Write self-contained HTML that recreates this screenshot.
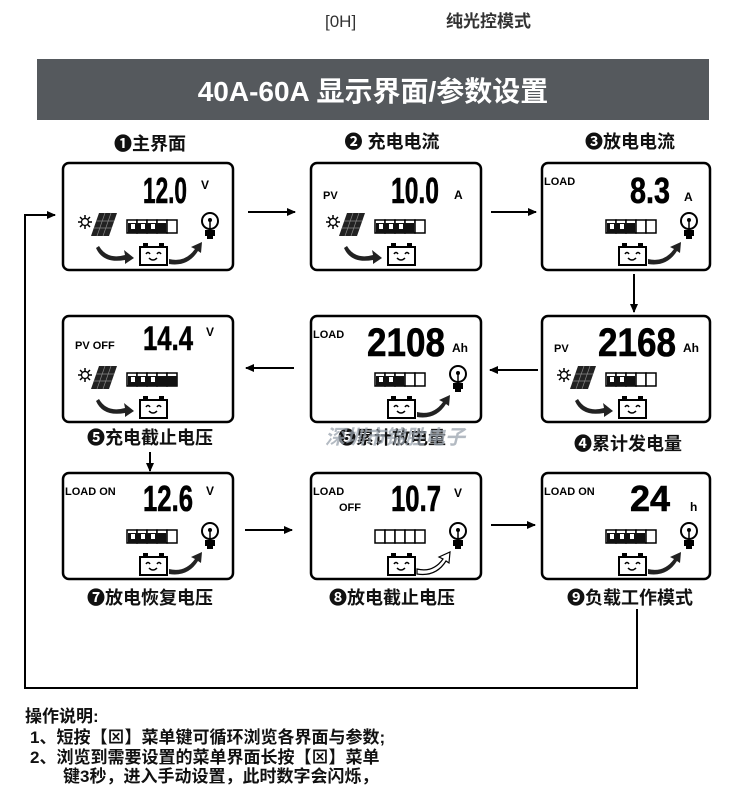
<!DOCTYPE html>
<html><head><meta charset="utf-8"><style>
body{margin:0;background:#fff;}
svg{display:block;font-family:"Liberation Sans","Noto Sans CJK SC",sans-serif;}
.d{font-weight:bold;stroke:#000;stroke-width:0.6;}
</style></head><body>
<svg width="750" height="786" viewBox="0 0 750 786" xmlns="http://www.w3.org/2000/svg">
<defs>
<g id="panel">
 <g stroke="#000" stroke-width="1.5"><line x1="22" y1="52" x2="22" y2="66"/><line x1="15" y1="59" x2="29" y2="59"/><line x1="17" y1="54" x2="27" y2="64"/><line x1="27" y1="54" x2="17" y2="64"/></g>
 <circle cx="22" cy="59" r="3.5" fill="#fff" stroke="#000" stroke-width="1.2"/>
 <polygon points="36,50 54,50 46,73 28,73" fill="#222"/>
 <g stroke="#888" stroke-width="0.7"><line x1="33" y1="58" x2="51" y2="58"/><line x1="31" y1="65" x2="49" y2="65"/><line x1="42" y1="50" x2="34" y2="73"/><line x1="48" y1="50" x2="40" y2="73"/></g>
</g>
<g id="bat">
 <rect x="77" y="84" width="27" height="18" fill="#fff" stroke="#000" stroke-width="2"/>
 <rect x="80" y="80" width="5" height="4" fill="#000"/><rect x="96" y="80" width="5" height="4" fill="#000"/>
 <path d="M83 91 q2-3 4 0 M94 91 q2-3 4 0 M86 95 q4 4 8 0" fill="none" stroke="#000" stroke-width="1.5"/>
</g>
<g id="bulb">
 <circle cx="147" cy="58" r="8" fill="#fff" stroke="#000" stroke-width="2"/>
 <rect x="142" y="67" width="10" height="6" fill="#000"/><rect x="144" y="73" width="6" height="3" fill="#000"/>
 <line x1="147" y1="58" x2="147" y2="67" stroke="#000" stroke-width="1.5"/><circle cx="147" cy="57" r="2" fill="#000"/>
</g>
<g id="larr"><path d="M36 83 q8 14 26 9 l-1 -5 l10 8 l-9 6 l0 -4 q-22 4 -29 -12 z" fill="#222"/></g>
<g id="rarr"><path d="M106 96 q16 4 26 -10 l-4 -2 l11 -5 l-1 11 l-3 -2 q-10 16 -29 13 z" fill="#222"/></g>
<g id="rarro"><path d="M106 96 q16 4 26 -10 l-4 -2 l11 -5 l-1 11 l-3 -2 q-10 16 -29 13 z" fill="#fff" stroke="#000" stroke-width="1.2"/></g>
<g id="bars"><g fill="#fff" stroke="#000" stroke-width="1.5"><rect x="64" y="57" width="10" height="13"/><rect x="74" y="57" width="10" height="13"/><rect x="84" y="57" width="10" height="13"/><rect x="94" y="57" width="10" height="13"/><rect x="104" y="57" width="10" height="13"/></g></g>
<g id="fill4"><rect x="65" y="60" width="38" height="10" fill="#111"/><rect x="68" y="61" width="4" height="5" fill="#fff"/><rect x="78" y="61" width="4" height="5" fill="#fff"/><rect x="88" y="61" width="4" height="5" fill="#fff"/></g>
<g id="fill3"><rect x="65" y="60" width="28" height="10" fill="#111"/><rect x="68" y="61" width="4" height="5" fill="#fff"/><rect x="78" y="61" width="4" height="5" fill="#fff"/></g>
<g id="fill5"><rect x="65" y="60" width="49" height="10" fill="#111"/><rect x="68" y="61" width="4" height="5" fill="#fff"/><rect x="78" y="61" width="4" height="5" fill="#fff"/><rect x="88" y="61" width="4" height="5" fill="#fff"/></g>
<marker id="ah" markerWidth="10" markerHeight="10" refX="8" refY="5" orient="auto" markerUnits="userSpaceOnUse"><path d="M0 1 L9 5 L0 9 z" fill="#000"/></marker>
</defs>

<text x="325" y="27" font-size="17" fill="#333">[0H]</text>
<text x="446" y="27" font-size="17" fill="#333" font-weight="bold">纯光控模式</text>

<rect x="37" y="59" width="672" height="61" fill="#55595d"/>
<text x="373" y="101" font-size="28" font-weight="bold" fill="#fff" text-anchor="middle">40A-60A 显示界面/参数设置</text>

<g font-size="18" font-weight="bold" fill="#111" text-anchor="middle">
<text x="150" y="150">❶主界面</text>
<text x="392" y="148">❷ 充电电流</text>
<text x="630" y="148">❸放电电流</text>
<text x="150" y="444">❺充电截止电压</text>
<text x="392" y="444">❺累计放电量</text>
<text x="628" y="450">❹累计发电量</text>
<text x="150" y="604">❼放电恢复电压</text>
<text x="392" y="604">❽放电截止电压</text>
<text x="630" y="604">❾负载工作模式</text>
</g>
<text x="395" y="444" font-size="20" font-weight="bold" font-style="italic" fill="#9aa3ad" fill-opacity="0.75" text-anchor="middle">深圳市锦胜电子</text>

<g fill="none" stroke="#000" stroke-width="2.5">
<rect x="63" y="163" width="170" height="107" rx="6"/>
<rect x="311" y="163" width="170" height="107" rx="6"/>
<rect x="542" y="163" width="168" height="107" rx="6"/>
<rect x="63" y="316" width="170" height="106" rx="6"/>
<rect x="311" y="316" width="170" height="106" rx="6"/>
<rect x="542" y="316" width="168" height="106" rx="6"/>
<rect x="63" y="473" width="170" height="106" rx="6"/>
<rect x="311" y="473" width="170" height="106" rx="6"/>
<rect x="542" y="473" width="168" height="106" rx="6"/>
</g>

<g stroke="#000" stroke-width="2" marker-end="url(#ah)" fill="none">
<line x1="248" y1="212" x2="295" y2="212"/>
<line x1="491" y1="212" x2="536" y2="212"/>
<line x1="634" y1="274" x2="634" y2="312"/>
<line x1="538" y1="370" x2="490" y2="370"/>
<line x1="294" y1="368" x2="246" y2="368"/>
<line x1="150" y1="452" x2="150" y2="471"/>
<line x1="245" y1="530" x2="292" y2="530"/>
<line x1="491" y1="525" x2="535" y2="525"/>
<polyline points="637,609 637,688 25,688 25,215 55,215"/>
</g>

<g transform="translate(63,163)">
<text class="d" x="124" y="40" font-size="36" text-anchor="end" textLength="44" lengthAdjust="spacingAndGlyphs">12.0</text>
<text x="138" y="26" font-size="12" font-weight="bold">V</text>
<use href="#panel"/><use href="#bars"/><use href="#fill4"/><use href="#bulb"/><use href="#bat"/><use href="#larr"/><use href="#rarr"/>
</g>
<g transform="translate(311,163)">
<text x="12" y="36" font-size="11" font-weight="bold">PV</text>
<text class="d" x="128" y="40" font-size="36" text-anchor="end" textLength="48" lengthAdjust="spacingAndGlyphs">10.0</text>
<text x="143" y="36" font-size="12" font-weight="bold">A</text>
<use href="#panel"/><use href="#bars"/><use href="#fill4"/><use href="#bat"/><use href="#larr"/>
</g>
<g transform="translate(542,163)">
<text x="2" y="22" font-size="11" font-weight="bold">LOAD</text>
<text class="d" x="128" y="40" font-size="36" text-anchor="end" textLength="40" lengthAdjust="spacingAndGlyphs">8.3</text>
<text x="142" y="38" font-size="12" font-weight="bold">A</text>
<use href="#bars"/><use href="#fill3"/><use href="#bulb"/><use href="#bat"/><use href="#rarr"/>
</g>
<g transform="translate(63,316)">
<text x="12" y="33" font-size="11" font-weight="bold">PV OFF</text>
<text class="d" x="130" y="34" font-size="34" text-anchor="end" textLength="50" lengthAdjust="spacingAndGlyphs">14.4</text>
<text x="143" y="20" font-size="12" font-weight="bold">V</text>
<use href="#panel"/><use href="#bars"/><use href="#fill5"/><use href="#bat"/><use href="#larr"/>
</g>
<g transform="translate(311,316)">
<text x="2" y="22" font-size="11" font-weight="bold">LOAD</text>
<text class="d" x="134" y="40" font-size="40" text-anchor="end" textLength="78" lengthAdjust="spacingAndGlyphs">2108</text>
<text x="141" y="36" font-size="12" font-weight="bold">Ah</text>
<use href="#bars"/><use href="#fill3"/><use href="#bulb"/><use href="#bat"/><use href="#rarr"/>
</g>
<g transform="translate(542,316)">
<text x="12" y="36" font-size="11" font-weight="bold">PV</text>
<text class="d" x="134" y="40" font-size="40" text-anchor="end" textLength="78" lengthAdjust="spacingAndGlyphs">2168</text>
<text x="141" y="36" font-size="12" font-weight="bold">Ah</text>
<use href="#panel"/><use href="#bars"/><use href="#fill3"/><use href="#bat"/><use href="#larr"/>
</g>
<g transform="translate(63,473)">
<text x="2" y="22" font-size="11" font-weight="bold">LOAD ON</text>
<text class="d" x="130" y="38" font-size="36" text-anchor="end" textLength="50" lengthAdjust="spacingAndGlyphs">12.6</text>
<text x="143" y="22" font-size="12" font-weight="bold">V</text>
<use href="#bars"/><use href="#fill4"/><use href="#bulb"/><use href="#bat"/><use href="#rarr"/>
</g>
<g transform="translate(311,473)">
<text x="2" y="22" font-size="11" font-weight="bold">LOAD</text>
<text x="28" y="38" font-size="11" font-weight="bold">OFF</text>
<text class="d" x="130" y="38" font-size="36" text-anchor="end" textLength="50" lengthAdjust="spacingAndGlyphs">10.7</text>
<text x="143" y="24" font-size="12" font-weight="bold">V</text>
<use href="#bars"/><use href="#bulb"/><use href="#bat"/><use href="#rarro"/>
</g>
<g transform="translate(542,473)">
<text x="2" y="22" font-size="11" font-weight="bold">LOAD ON</text>
<text class="d" x="128" y="38" font-size="36" text-anchor="end" textLength="40" lengthAdjust="spacingAndGlyphs">24</text>
<text x="148" y="38" font-size="12" font-weight="bold">h</text>
<use href="#bars"/><use href="#fill4"/><use href="#bulb"/><use href="#bat"/><use href="#rarr"/>
</g>

<g font-size="17" font-weight="bold" fill="#111">
<text x="25" y="722">操作说明:</text>
<text x="30" y="743">1、短按【⊠】菜单键可循环浏览各界面与参数;</text>
<text x="30" y="763">2、浏览到需要设置的菜单界面长按【⊠】菜单</text>
<text x="63" y="782">键3秒，进入手动设置，此时数字会闪烁，</text>
</g>
</svg>
</body></html>
